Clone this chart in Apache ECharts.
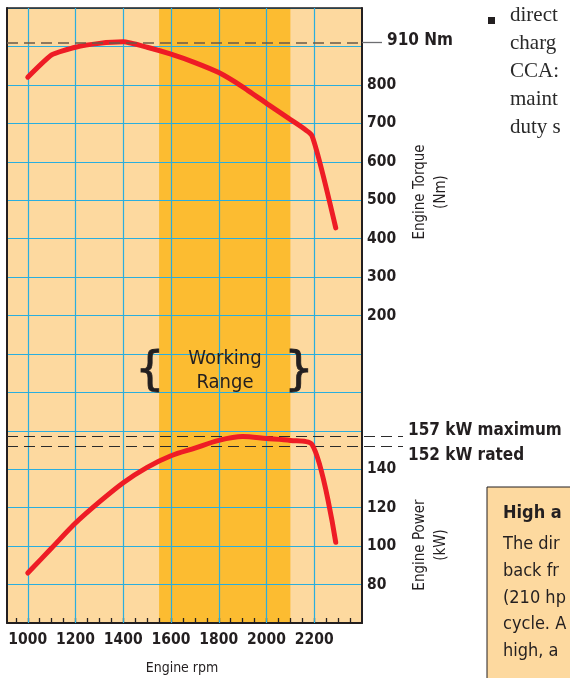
<!DOCTYPE html>
<html><head><meta charset="utf-8">
<script src="https://cdn.jsdelivr.net/npm/echarts@6/dist/echarts.min.js"></script>
<style>html,body{margin:0;padding:0;background:#fff}#c{width:570px;height:678px}</style>
</head><body><div id="c"></div>
<script>
// ---- data ----
const rpm = [1000, 1100, 1200, 1300, 1400, 1500, 1600, 1700, 1800, 1900, 2000, 2100, 2190, 2290];
const torque = [820, 878, 898, 908, 912, 898, 880, 858, 832, 795, 752, 710, 668, 428];
const power = [86, 99, 112, 123, 133, 141, 147, 151, 155, 157, 156, 155, 153, 102];
const rpmLabels = [1000, 1200, 1400, 1600, 1800, 2000, 2200];
const rpmMinorTicks = [950, 1000, 1050, 1100, 1150, 1200, 1250, 1300, 1350, 1400, 1450, 1500, 1550, 1600, 1650, 1700, 1750, 1800, 1850, 1900, 1950, 2000, 2050, 2100, 2150, 2200, 2250, 2300, 2350];
const torqueLabels = [200, 300, 400, 500, 600, 700, 800];
const powerLabels = [80, 100, 120, 140];
const workingRange = [1550, 2100];
const torqueMax = 910;
const powerMax = 157;
const powerRated = 152;

const NARROW = "'Liberation Sans Narrow','DejaVu Sans Condensed','Roboto Condensed','Arial Narrow',sans-serif";
const INK = '#231f20';
const CYAN = '#2aaede';
const RED = '#ee1c25';

const chart = echarts.init(document.getElementById('c'), null, {renderer: 'canvas'});

const hiddenAxis = {show: false, axisLine: {show: false, onZero: false}, axisTick: {show: false}, axisLabel: {show: false}, splitLine: {show: false}};

chart.setOption({
  animation: false,
  backgroundColor: '#ffffff',
  grid: [
    {left: 7, right: 208, top: 8, bottom: 55, show: true, backgroundColor: '#fdd99f', borderWidth: 0},
    {left: 7, right: 167, top: 8, bottom: 55, show: false}
  ],
  xAxis: [
    {type: 'value', min: 913, max: 2400, gridIndex: 0, position: 'bottom', z: 4, splitLine: {show: false},
      axisLine: {show: true, onZero: false, lineStyle: {color: INK, width: 2}},
      axisTick: {show: true, inside: true, length: 5, customValues: rpmMinorTicks, lineStyle: {color: INK, width: 1.3}},
      axisLabel: {show: true, customValues: rpmLabels, margin: 9, color: INK, fontFamily: NARROW, fontWeight: 'bold', fontSize: 15.5,
        formatter: v => String(v)}},
    {type: 'value', min: 913, max: 2400, gridIndex: 0, position: 'top', z: 4, splitLine: {show: false},
      axisLine: {show: true, onZero: false, lineStyle: {color: INK, width: 1.5}},
      axisTick: {show: false}, axisLabel: {show: false}},
    Object.assign({type: 'value', min: 913, max: 2572, gridIndex: 1}, hiddenAxis)
  ],
  yAxis: [
    { // torque
      type: 'value', gridIndex: 0, position: 'right', min: -600, max: 1000, interval: 100, z: 4,
      axisLine: {show: true, onZero: false, lineStyle: {color: INK, width: 2}},
      axisTick: {show: false}, splitLine: {show: false},
      axisLabel: {margin: 5, color: INK, fontFamily: NARROW, fontWeight: 'bold', fontSize: 15.5,
        formatter: v => torqueLabels.indexOf(v) >= 0 ? String(v) : ''}
    },
    { // power
      type: 'value', gridIndex: 0, position: 'right', min: 60, max: 380, interval: 20, z: 3,
      axisLine: {show: false, onZero: false}, axisTick: {show: false},
      splitLine: {show: true, lineStyle: {color: CYAN, width: 1.2}},
      axisLabel: {margin: 5, color: INK, fontFamily: NARROW, fontWeight: 'bold', fontSize: 15.5,
        formatter: v => powerLabels.indexOf(v) >= 0 ? String(v) : ''}
    },
    { // left border
      type: 'value', gridIndex: 0, position: 'left', min: 0, max: 1, z: 4,
      axisLine: {show: true, onZero: false, lineStyle: {color: INK, width: 2}},
      axisTick: {show: false}, axisLabel: {show: false}, splitLine: {show: false}
    },
    Object.assign({type: 'value', gridIndex: 1, min: -600, max: 1000}, hiddenAxis),
    Object.assign({type: 'value', gridIndex: 1, min: 60, max: 380}, hiddenAxis)
  ],
  series: [
    { // working range band
      type: 'line', data: [], xAxisIndex: 0, yAxisIndex: 0, z: 1, silent: true,
      markArea: {silent: true, itemStyle: {color: '#fcbc31', opacity: 1},
        data: [[{xAxis: workingRange[0]}, {xAxis: workingRange[1]}]]}
    },
    { // vertical grid lines
      type: 'line', data: [], xAxisIndex: 0, yAxisIndex: 0, z: 3, silent: true,
      markLine: {silent: true, symbol: ['none', 'none'], label: {show: false},
        lineStyle: {color: CYAN, width: 1.2, type: 'solid'},
        data: rpmLabels.map(v => ({xAxis: v}))}
    },
    { // torque
      name: 'Engine Torque', type: 'line', xAxisIndex: 0, yAxisIndex: 0, z: 5,
      data: rpm.map((r, i) => [r, torque[i]]),
      showSymbol: false, smooth: 0.15,
      lineStyle: {color: RED, width: 5, cap: 'round', join: 'round'},
      markLine: {silent: true, symbol: ['none', 'none'], z: 6, label: {show: false},
        lineStyle: {color: '#6b5a48', width: 1.6, type: [11, 6]},
        data: [[{coord: [913, torqueMax]}, {coord: [2400, torqueMax]}]]}
    },
    { // power
      name: 'Engine Power', type: 'line', xAxisIndex: 0, yAxisIndex: 1, z: 5,
      data: rpm.map((r, i) => [r, power[i]]),
      showSymbol: false, smooth: 0.3,
      lineStyle: {color: RED, width: 5, cap: 'round', join: 'round'}
    },
    { // reference lines extending past the plot (wide overlay grid)
      type: 'line', data: [], xAxisIndex: 2, yAxisIndex: 3, z: 6, silent: true,
      markLine: {silent: true, symbol: ['none', 'none'],
        data: [
          [{coord: [2400, torqueMax], lineStyle: {color: '#6d6e71', width: 1.3, type: 'solid'},
            label: {show: true, position: 'end', distance: 5, formatter: torqueMax + ' Nm\n', lineHeight: 4, color: INK, fontFamily: NARROW, fontWeight: 'bold', fontSize: 17}},
           {coord: [2484, torqueMax]}]
        ]}
    },
    {
      type: 'line', data: [], xAxisIndex: 2, yAxisIndex: 4, z: 6, silent: true,
      markLine: {silent: true, symbol: ['none', 'none'],
        lineStyle: {color: '#2b2b2b', width: 1.2, type: [11, 6]},
        data: [
          [{coord: [913, powerMax], label: {show: true, position: 'end', distance: 5, lineHeight: 12,
              formatter: powerMax + ' kW maximum\n', color: INK, fontFamily: NARROW, fontWeight: 'bold', fontSize: 17}},
           {coord: [2572, powerMax]}],
          [{coord: [913, powerRated], label: {show: true, position: 'end', distance: 5, lineHeight: 18,
              formatter: '\n' + powerRated + ' kW rated', color: INK, fontFamily: NARROW, fontWeight: 'bold', fontSize: 17}},
           {coord: [2572, powerRated]}]
        ]}
    }
  ],
  graphic: [
    {type: 'text', x: 431, y: 192, rotation: Math.PI / 2, z: 10,
      style: {text: 'Engine Torque\n(Nm)', font: "15px " + NARROW, fill: INK, align: 'center', verticalAlign: 'middle', lineHeight: 21}},
    {type: 'text', x: 431, y: 545, rotation: Math.PI / 2, z: 10,
      style: {text: 'Engine Power\n(kW)', font: "15px " + NARROW, fill: INK, align: 'center', verticalAlign: 'middle', lineHeight: 21}},
    {type: 'text', x: 182, y: 668, z: 10,
      style: {text: 'Engine rpm', font: "14px " + NARROW, fill: INK, align: 'center', verticalAlign: 'middle'}},
    {type: 'text', x: 225, y: 371, z: 10,
      style: {text: 'Working\nRange', font: "20px " + NARROW, fill: INK, align: 'center', verticalAlign: 'middle', lineHeight: 24}},
    {type: 'text', x: 150, y: 372, z: 10,
      style: {text: '{', font: "46px 'DejaVu Sans'", fill: INK, stroke: INK, lineWidth: 0.8, align: 'center', verticalAlign: 'middle'}},
    {type: 'text', x: 299, y: 372, z: 10,
      style: {text: '}', font: "46px 'DejaVu Sans'", fill: INK, stroke: INK, lineWidth: 0.8, align: 'center', verticalAlign: 'middle'}},
    // page text at right
    {type: 'rect', shape: {x: 488, y: 17, width: 7, height: 7}, style: {fill: '#231f20'}},
    {type: 'text', x: 510, y: 2, style: {text: 'direct\ncharg\nCCA:\nmaint\nduty s', font: "21px 'Liberation Serif'", fill: '#2a2a2a', verticalAlign: 'top', lineHeight: 27.8}},
    {type: 'rect', shape: {x: 487, y: 487, width: 100, height: 200}, style: {fill: '#fdd99f', stroke: INK, lineWidth: 1}},
    {type: 'text', x: 503, y: 513, style: {text: 'High a', font: "bold 18px " + NARROW, fill: INK, verticalAlign: 'middle'}},
    {type: 'text', x: 503, y: 531, style: {text: 'The dir\nback fr\n(210 hp\ncycle. A\nhigh, a', font: "18px " + NARROW, fill: INK, verticalAlign: 'top', lineHeight: 26.8}}
  ]
});
</script></body></html>
